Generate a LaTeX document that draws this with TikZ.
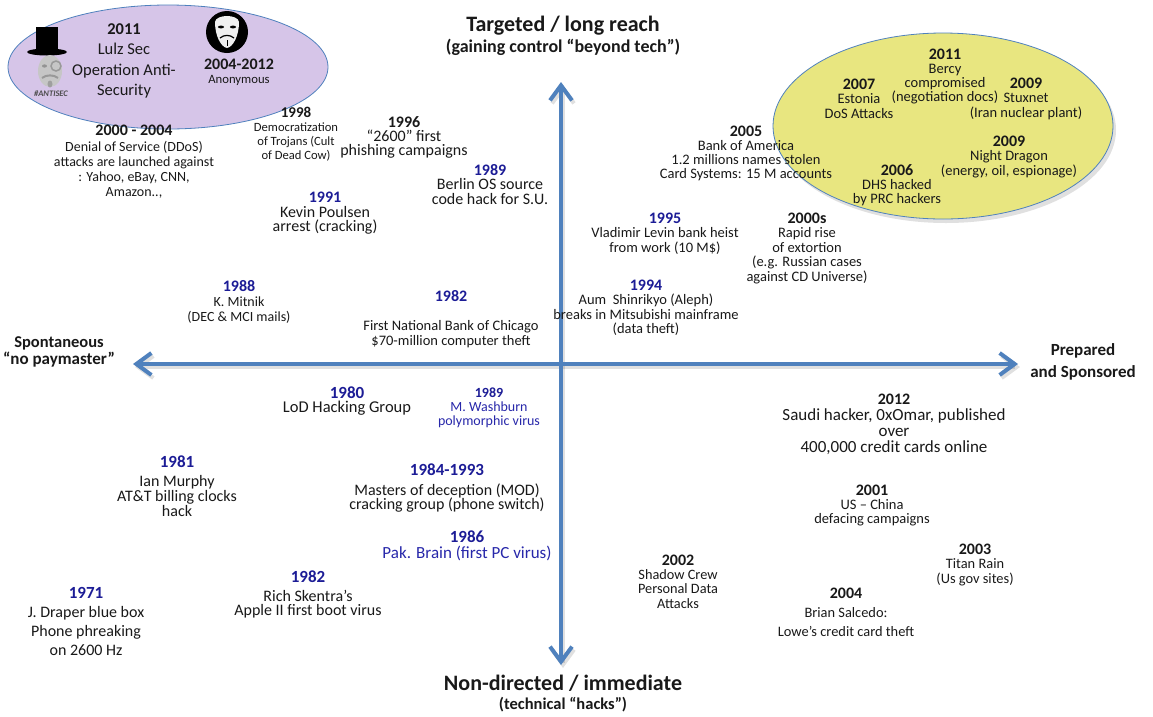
\documentclass[tikz,border=0pt]{standalone}
\usepackage{fontspec}
\setmainfont{Carlito}
\usetikzlibrary{arrows.meta,shapes.geometric}
\definecolor{axisblue}{RGB}{79,129,189}
\definecolor{yearblue}{RGB}{28,28,150}
\definecolor{textblue}{RGB}{40,40,170}
\definecolor{bodyc}{RGB}{25,25,25}
\definecolor{lilac}{RGB}{214,197,232}
\definecolor{lemon}{RGB}{232,230,128}
\newcommand\fsz[2]{\fontsize{#1}{#2}\selectfont\lineskiplimit=-100pt\relax}
\newcommand\yb[2]{{\fontsize{#1}{#1}\selectfont\bfseries #2}}
\newcommand\ybl[2]{{\color{yearblue}\fontsize{#1}{#1}\selectfont\bfseries #2}}
\begin{document}
\begin{tikzpicture}[x=1pt,y=-1pt,
  txt/.style={align=center,inner sep=0pt,text=bodyc},
  axis/.style={line width=4pt,draw=axisblue,{Straight Barb[length=15pt,width=22pt]}-{Straight Barb[length=15pt,width=22pt]}},
  axisshadow/.style={axis,draw=black,opacity=0.12},
  blob/.style={ellipse,draw=axisblue,line width=0.8pt,inner sep=0pt}]
\useasboundingbox (0,0) rectangle (1153,716);
\fill[white] (0,0) rectangle (1153,716);

% zones
\node[blob,fill=lilac,minimum width=320pt,minimum height=124pt] (lulzzone) at (168,67) {};
\node[ellipse,fill=black,opacity=0.12,inner sep=0pt,minimum width=340pt,minimum height=186pt] (yshadow) at (946,130) {};
\node[blob,fill=lemon,minimum width=340pt,minimum height=186pt] (statezone) at (943,126) {};

% LulzSec icon
\fill[black] (36,27) rectangle (58,51);
\fill[black] (47,52) ellipse [x radius=20, y radius=3.5];
\fill[gray!45] (50,71) ellipse [x radius=12, y radius=16];
\fill[gray!85] (44.5,66) ellipse [x radius=2.5, y radius=1.6];
\draw[gray!80,line width=1.5pt] (56,66) circle (5);
\draw[gray!80,line width=2pt] (42,78) .. controls (46,74.5) and (54,74.5) .. (58,78);
\fill[gray!75] (50,84) ellipse [x radius=2.5, y radius=3.5];
\node[inner sep=0pt,font=\fontsize{8.5}{8.5}\selectfont\bfseries\itshape,text=gray!60!black] (antisec) at (51,94) {\#ANTISEC};

% Anonymous icon
\fill[black] (227,32) circle (21);
\fill[white!88!gray] (215,22) .. controls (216,14) and (238,14) .. (239,22)
  .. controls (239,36) and (233,47) .. (227,48) .. controls (221,47) and (215,36) .. (215,22);
\fill[black] (221,27) ellipse [x radius=3.2, y radius=1.4];
\fill[black] (233,27) ellipse [x radius=3.2, y radius=1.4];
\draw[black,line width=1.2pt] (220,38) .. controls (224,34.5) and (230,34.5) .. (234,38);
\draw[black,line width=1pt] (227,40) -- (227,46);

% axes
\coordinate (yTop) at (561,82);
\coordinate (yBot) at (561,665);
\coordinate (xL) at (133,364);
\coordinate (xR) at (1018,364);
\draw[axisshadow] ([shift={(2,3)}]yBot) -- ([shift={(2,3)}]yTop);
\draw[axisshadow] ([shift={(2,3)}]xL) -- ([shift={(2,3)}]xR);
\draw[axis] (yBot) -- (yTop);
\draw[axis] (xL) -- (xR);

% axis labels
\node[txt,font=\fsz{18}{21}\bfseries] (targeted) at (563,35.5) {{\fontsize{22}{22}\selectfont Targeted / long reach}\\(gaining control “beyond tech”)};
\node[txt,font=\fsz{16.5}{19}\bfseries] (nondir) at (563,693.5) {{\fontsize{22}{22}\selectfont Non-directed / immediate}\\(technical “hacks”)};
\node[txt,font=\fsz{17}{16.5}\bfseries] (spont) at (59,352) {{\fontsize{16.5}{16.5}\selectfont Spontaneous}\\“no paymaster”};
\node[txt,font=\fsz{17}{22}\bfseries] (prep) at (1083,362) {Prepared\\and Sponsored};

% upper left
\node[txt,font=\fsz{16.5}{20.5}] (lulz) at (124,61) {\yb{16.5}{2011}\\Lulz Sec\\Operation Anti-\\Security};
\node[txt,font=\fsz{12.7}{14}] (anon) at (239,72) {\yb{16}{2004-2012}\\Anonymous};
\node[txt,font=\fsz{14}{15.3}] (ddos) at (134,162) {\yb{16}{2000 - 2004}\\Denial of Service (DDoS)\\attacks are launched against\\: Yahoo, eBay, CNN,\\Amazon..,};
\node[txt,font=\fsz{12.6}{14}] (trojans) at (296,134.5) {\yb{15}{1998}\\Democratization\\of Trojans (Cult\\of Dead Cow)};
\node[txt,font=\fsz{16}{14}] (phish) at (404,137) {\yb{16}{1996}\\“2600” first\\phishing campaigns};
\node[txt,font=\fsz{16}{14.5}] (berlin) at (490,184.5) {\ybl{16}{1989}\\Berlin OS source\\code hack for S.U.};
\node[txt,font=\fsz{16}{14.5}] (poulsen) at (325,213.5) {\ybl{16}{1991}\\Kevin Poulsen\\arrest (cracking)};
\node[txt,font=\fsz{14}{15}] (mitnik) at (239,302) {\ybl{16}{1988}\\K. Mitnik\\(DEC \& MCI mails)};
\node[txt,font=\fsz{14.5}{14.7}] (chicago) at (451,319) {\ybl{16}{1982}\\[14.7pt]First National Bank of Chicago\\\$70-million computer theft};

% upper right
\node[txt,font=\fsz{14.5}{14.5}] (levin) at (665,233.5) {\ybl{16}{1995}\\Vladimir Levin bank heist\\from work (10 M\$)};
\node[txt,font=\fsz{14.5}{14.5}] (aum) at (646,307.5) {\ybl{16}{1994}\\Aum\ \ Shinrikyo (Aleph)\\breaks in Mitsubishi mainframe\\(data theft)};
\node[txt,font=\fsz{14.5}{14}] (boa) at (746,153) {\yb{16}{2005}\\Bank of America\\1.2 millions names stolen\\Card Systems: 15 M accounts};
\node[txt,font=\fsz{14.5}{14.5}] (extort) at (807,248) {\yb{16}{2000s}\\Rapid rise\\of extortion\\(e.g. Russian cases\\against CD Universe)};
\node[txt,font=\fsz{14.5}{14.3}] (bercy) at (945,76.5) {\yb{16}{2011}\\Bercy\\compromised\\(negotiation docs)};
\node[txt,font=\fsz{14.5}{14.5}] (estonia) at (859,98.5) {\yb{16}{2007}\\Estonia\\DoS Attacks};
\node[txt,font=\fsz{14.5}{14.5}] (stuxnet) at (1026,98.5) {\yb{16}{2009}\\Stuxnet\\(Iran nuclear plant)};
\node[txt,font=\fsz{14.5}{14.5}] (dragon) at (1009,156.5) {\yb{16}{2009}\\Night Dragon\\(energy, oil, espionage)};
\node[txt,font=\fsz{14.5}{14}] (dhs) at (897,185) {\yb{16}{2006}\\DHS hacked\\by PRC hackers};

% lower left
\node[txt,font=\fsz{16.5}{14.5}] (lod) at (347,401) {\ybl{17}{1980}\\LoD Hacking Group};
\node[txt,font=\fsz{14}{14},text=textblue] (washburn) at (489,408) {\ybl{14}{1989}\\M. Washburn\\polymorphic virus};
\node[txt,font=\fsz{16}{14}] (mod) at (447,488) {\ybl{17}{1984-1993}\\[6pt]Masters of deception (MOD)\\cracking group (phone switch)};
\node[txt,font=\fsz{17}{15.5},text=textblue] (brain) at (467,546) {\ybl{17}{1986}\\Pak. Brain (first PC virus)};
\node[txt,font=\fsz{16}{14.7}] (murphy) at (177,486) {\ybl{17}{1981}\\[5pt]Ian Murphy\\AT\&T billing clocks\\hack};
\node[txt,font=\fsz{16}{19}] (draper) at (86,621.5) {\ybl{17}{1971}\\J. Draper blue box\\Phone phreaking\\on 2600 Hz};
\node[txt,font=\fsz{16}{14.5}] (skentra) at (308,594.5) {\ybl{17}{1982}\\[4.5pt]Rich Skentra’s\\Apple II first boot virus};

% lower right
\node[txt,font=\fsz{17}{15.8}] (saudi) at (894,424.5) {\yb{16}{2012}\\Saudi hacker, 0xOmar, published\\over\\400,000 credit cards online};
\node[txt,font=\fsz{14.5}{13.8}] (uschina) at (872,505.5) {\yb{16}{2001}\\US – China\\defacing campaigns};
\node[txt,font=\fsz{14.3}{14.3}] (shadow) at (678,581.5) {\yb{16}{2002}\\Shadow Crew\\Personal Data\\Attacks};
\node[txt,font=\fsz{14.4}{19}] (salcedo) at (846,612) {\yb{16}{2004}\\Brian Salcedo:\\Lowe’s credit card theft};
\node[txt,font=\fsz{14.4}{14.5}] (titan) at (975,564.5) {\yb{16}{2003}\\Titan Rain\\(Us gov sites)};
\end{tikzpicture}
\end{document}
